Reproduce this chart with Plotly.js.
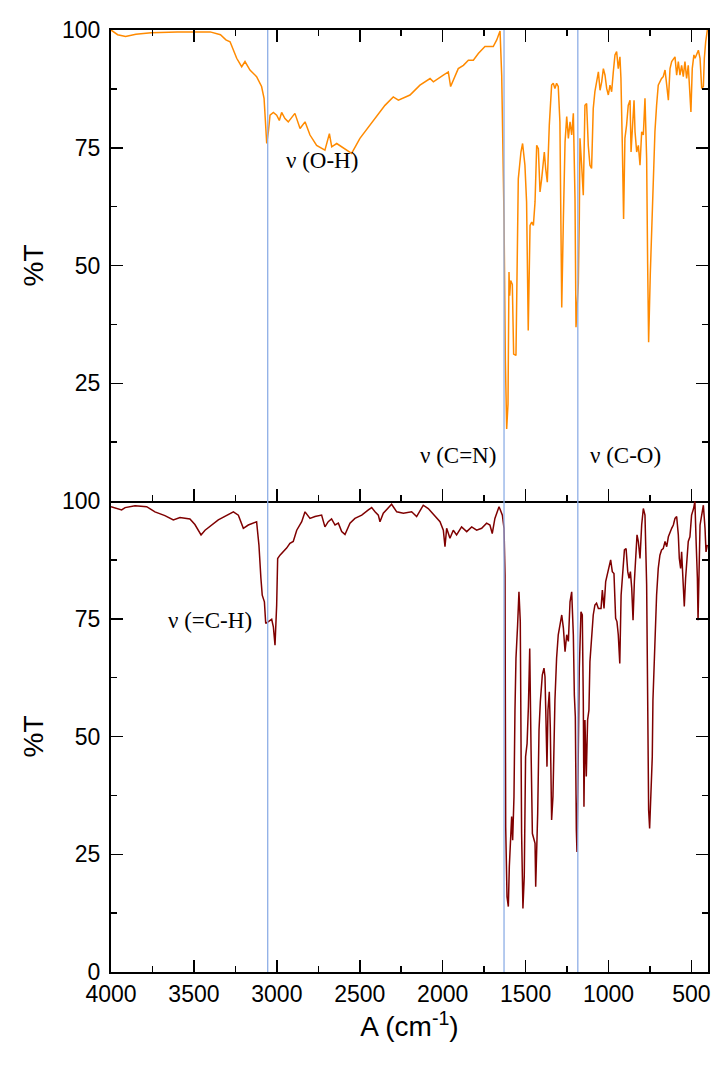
<!DOCTYPE html>
<html>
<head>
<meta charset="utf-8">
<script src="https://cdn.plot.ly/plotly-3.0.1.min.js"></script>
<style>html,body{margin:0;padding:0;background:#fff;}#chart{width:717px;height:1067px;}</style>
</head>
<body>
<div id="chart"></div>
<script>
// Top spectrum (orange)
const topWavenumber = [4000,3960,3912,3850,3758,3600,3402,3340,3307,3282,3242,3212,3192,3162,3122,3092,3077,3069,3061,3051,3041,3021,3001,2985,2971,2951,2931,2891,2860,2830,2800,2760,2710,2683,2669,2639,2599,2549,2499,2438,2398,2348,2298,2267,2197,2137,2076,2056,1996,1966,1952,1936,1906,1875,1845,1815,1785,1745,1695,1674,1654,1644,1638,1630,1622,1614,1606,1600,1596,1590,1580,1572,1558,1550,1544,1528,1518,1504,1494,1484,1473,1463,1453,1443,1433,1423,1413,1403,1387,1379,1369,1357,1343,1333,1323,1313,1303,1293,1282,1272,1262,1252,1242,1232,1222,1212,1202,1196,1190,1182,1176,1172,1162,1152,1142,1132,1122,1112,1102,1092,1082,1061,1051,1041,1031,1021,1011,1001,991,981,971,961,951,941,931,925,917,909,901,891,881,870,864,856,846,840,830,820,810,800,790,780,770,764,758,748,740,730,720,710,700,680,670,659,649,639,629,619,599,589,579,569,559,549,539,529,519,509,503,495,485,478,468,458,448,438,428,422,414,404];
const topT = [100,99.0,98.6,99.1,99.4,99.6,99.6,99.0,97.9,97.5,94,92.2,93.3,91.5,90.1,88,85.5,80.5,75.9,78.4,81.9,82.5,81.9,80.8,82.5,81.2,80.5,82.3,79.1,80.5,77.7,75.5,74.5,78,75.2,75.9,75,73.8,77,79.8,81.9,84,85.8,85.1,86.2,88.3,89.7,89,90.4,91.1,88,89.4,91.8,92.5,93.6,93.6,95,96.5,96.5,97.9,99.8,90.4,79.8,60,30,15.3,20.6,48.6,43.6,46.8,46,31.2,30.9,55,68.4,74.1,75.9,71.3,63.5,36.2,58.5,59.2,58.5,63.5,75.5,74.8,65.6,68.4,74.1,70.6,67.7,79.8,88.3,88.7,87.6,88.7,88,80.5,41.1,60,76.2,81.6,77,80.5,77.7,82.3,64.2,36.9,40,46.1,60,77,71.3,64.9,84,84.4,75.5,71.3,70.6,83.3,86.9,91.1,87.2,89,91.8,90.4,87.6,86.2,88.3,86.9,91.1,94.7,95.4,91.8,94.3,89.7,76.2,59.9,77,79.8,84,85.1,74.1,78.4,85.1,78.4,74.1,75.5,71.3,78.4,77.7,85.5,72.7,50.4,33.7,48.2,56.7,71.3,78.4,84,88.3,89.7,90.1,91.5,88.3,85.1,91.8,93.3,94.3,90.4,93.3,90.4,92.5,90.1,93.3,89.7,92.5,86.9,82.6,91.8,94.7,94,94.7,95.7,94,87.6,88,94,97.5,100];

// Bottom spectrum (dark red)
const botWavenumber = [4000,3936,3915,3855,3785,3735,3675,3624,3584,3524,3494,3457,3433,3353,3262,3232,3202,3172,3122,3108,3096,3088,3075,3067,3051,3031,3021,3011,3001,2995,2981,2961,2941,2921,2901,2880,2850,2830,2800,2770,2730,2710,2690,2670,2649,2629,2609,2589,2559,2529,2488,2448,2428,2408,2388,2378,2358,2308,2277,2237,2187,2157,2117,2087,2046,2016,1996,1986,1976,1956,1936,1916,1886,1855,1825,1795,1765,1735,1715,1701,1685,1664,1660,1640,1630,1624,1620,1612,1604,1598,1592,1584,1578,1570,1564,1558,1548,1540,1532,1524,1516,1508,1500,1491,1483,1475,1467,1459,1443,1439,1427,1419,1411,1399,1389,1383,1377,1371,1365,1357,1351,1343,1335,1329,1323,1313,1303,1282,1272,1262,1252,1242,1232,1222,1212,1206,1200,1194,1190,1182,1176,1166,1158,1152,1148,1142,1134,1126,1118,1112,1102,1092,1082,1072,1061,1045,1037,1027,1017,1001,987,977,967,957,949,941,932,924,916,904,894,884,876,868,860,852,844,836,828,820,810,800,790,780,770,764,758,752,744,736,732,724,710,700,690,680,670,659,649,639,629,619,609,599,589,579,573,565,559,549,543,535,527,519,509,499,487,479,471,464,460,454,448,438,428,418,412,404];
const botT = [98.8,98.1,98.6,99,98.8,97.7,96.9,96,96.5,96.2,95,92.8,93.8,96,97.7,97,94.2,94.9,95.6,90.7,83.6,80,78.6,74,74.4,74.9,73.3,69.4,77.9,87.8,88.5,89.2,90,91,91.4,93.8,95.6,97.7,96.3,96.7,97,94.5,95.6,96.2,94.9,95.3,93.5,92.9,95.3,96.3,97,98.1,98.6,97.7,97,95.6,97.4,99.3,97.7,97.4,97.7,96.7,99.1,98.4,96.7,95.6,93.8,90.3,94.2,92.1,93.8,92.8,94.5,93.5,94.5,93.8,94.2,95.3,94.9,93.1,96.3,98.4,98.8,97,94.2,84.3,30.9,16,13.9,22.4,28,33,28,37.2,55.6,66.6,73.7,80.7,74.4,29.4,13.5,20.3,45.7,48.5,56.3,68.7,47.1,29.4,27.3,18.1,33.7,51.4,57.4,63.1,64.5,62.7,53.5,43.6,55.6,59.5,52,32.3,37.2,49.3,57.7,66.6,71.6,75.8,73,68,71.6,70.2,78.6,80.7,71.6,58.8,54.2,30.2,25.5,47.1,64.5,76.5,75.8,57.7,35.1,53.5,41.5,53.5,55.6,65.9,71.6,75.8,77.9,78.3,77.2,77.2,81.1,77.2,82.9,85.4,87.5,85,84.6,75.1,74.4,71.6,65.5,80,84.3,89.6,89.9,85,83.6,85,81.5,74.7,82.9,87.1,92.8,91.4,87.8,94.9,98.4,97,82.2,58.8,34.4,30.5,37.9,45.7,57.7,67.3,80,85.7,88.5,89.6,89.9,91.4,90.3,92.4,93.5,94.2,94.9,96.3,96.7,92.8,87.8,85.7,89.2,80,77.6,83.6,87.1,91.4,92.4,97,98.4,99.9,90.7,83.6,74.7,83.6,94.9,97,99.1,94.2,89.2,90.7];

// Marker lines (cm-1) and labels
const markerLines = [3055, 1630, 1185];
const labelText = ["ν (O-H)", "ν (C=N)", "ν (C-O)", "ν (=C-H)"];
const labelX = [2728, 1908, 895, 3403];
const labelY = [72.3, 9.6, 9.6, 74.7];
const labelPanel = ["y", "y", "y", "y2"];

const xTickVals = [4000,3500,3000,2500,2000,1500,1000,500];
const xMinorVals = [3750,3250,2750,2250,1750,1250,750];
const yTickValsTop = [0,25,50,75,100];
const yTickTextTop = [" ","25","50","75","100"];
const yTickValsBot = [0,25,50,75,100];
const yMinorVals = [12.5,37.5,62.5,87.5];

const sans = "Liberation Sans, Arial, sans-serif";
const tickFont = {family: sans, size: 23, color: "#000"};

const traces = [
  {x: topWavenumber, y: topT, type: "scatter", mode: "lines", xaxis: "x", yaxis: "y",
   line: {color: "#ff8a00", width: 1.5}, hoverinfo: "skip"},
  {x: botWavenumber, y: botT, type: "scatter", mode: "lines", xaxis: "x2", yaxis: "y2",
   line: {color: "#7f0000", width: 1.5}, hoverinfo: "skip"}
];

const xCommon = {
  range: [4000, 400], autorange: false, tickmode: "array", tickvals: xTickVals,
  ticks: "inside", ticklen: 12, tickwidth: 1.5, tickcolor: "#000",
  showline: true, linecolor: "#000", linewidth: 2, showgrid: false, zeroline: false,
  tickfont: tickFont,
  minor: {tickmode: "array", tickvals: xMinorVals, ticks: "inside", ticklen: 6, tickwidth: 1.5, tickcolor: "#000", showgrid: false}
};
const yCommon = {
  range: [0, 100], autorange: false, tickmode: "array",
  ticks: "inside", ticklen: 12, tickwidth: 1.5, tickcolor: "#000",
  showline: true, linecolor: "#000", linewidth: 2, showgrid: false, zeroline: false,
  mirror: "allticks", tickfont: tickFont, ticklabelstandoff: 4,
  minor: {tickmode: "array", tickvals: yMinorVals, ticks: "inside", ticklen: 6, tickwidth: 1.5, tickcolor: "#000", showgrid: false},
  title: {text: "%T", font: {family: sans, size: 28, color: "#000"}, standoff: 10}
};

const layout = {
  width: 717, height: 1067,
  margin: {l: 111, r: 9, t: 30, b: 95},
  paper_bgcolor: "#fff", plot_bgcolor: "#fff",
  showlegend: false,
  xaxis: Object.assign({}, xCommon, {anchor: "y", domain: [0, 1], showticklabels: false, mirror: "allticks"}),
  xaxis2: Object.assign({}, xCommon, {anchor: "y2", domain: [0, 1], mirror: false,
    title: {text: "A (cm<sup>-1</sup>)", font: {family: sans, size: 28, color: "#000"}, standoff: 2}}),
  yaxis: Object.assign({}, yCommon, {anchor: "x", domain: [0.5, 1], tickvals: yTickValsTop, ticktext: yTickTextTop}),
  yaxis2: Object.assign({}, yCommon, {anchor: "x2", domain: [0, 0.5], tickvals: yTickValsBot}),
  shapes: markerLines.map(v => ({type: "line", xref: "x", yref: "paper", x0: v, x1: v, y0: 0, y1: 1,
    line: {color: "#8eaee6", width: 1.3}, layer: "above"})),
  annotations: labelText.map((t, i) => ({text: t, x: labelX[i], y: labelY[i], xref: labelPanel[i] === "y" ? "x" : "x2", yref: labelPanel[i],
    showarrow: false, xanchor: "center", yanchor: "middle",
    font: {family: "Liberation Serif, Times New Roman, serif", size: 23, color: "#000"}}))
};

Plotly.newPlot("chart", traces, layout, {staticPlot: true, displayModeBar: false});
</script>
</body>
</html>
